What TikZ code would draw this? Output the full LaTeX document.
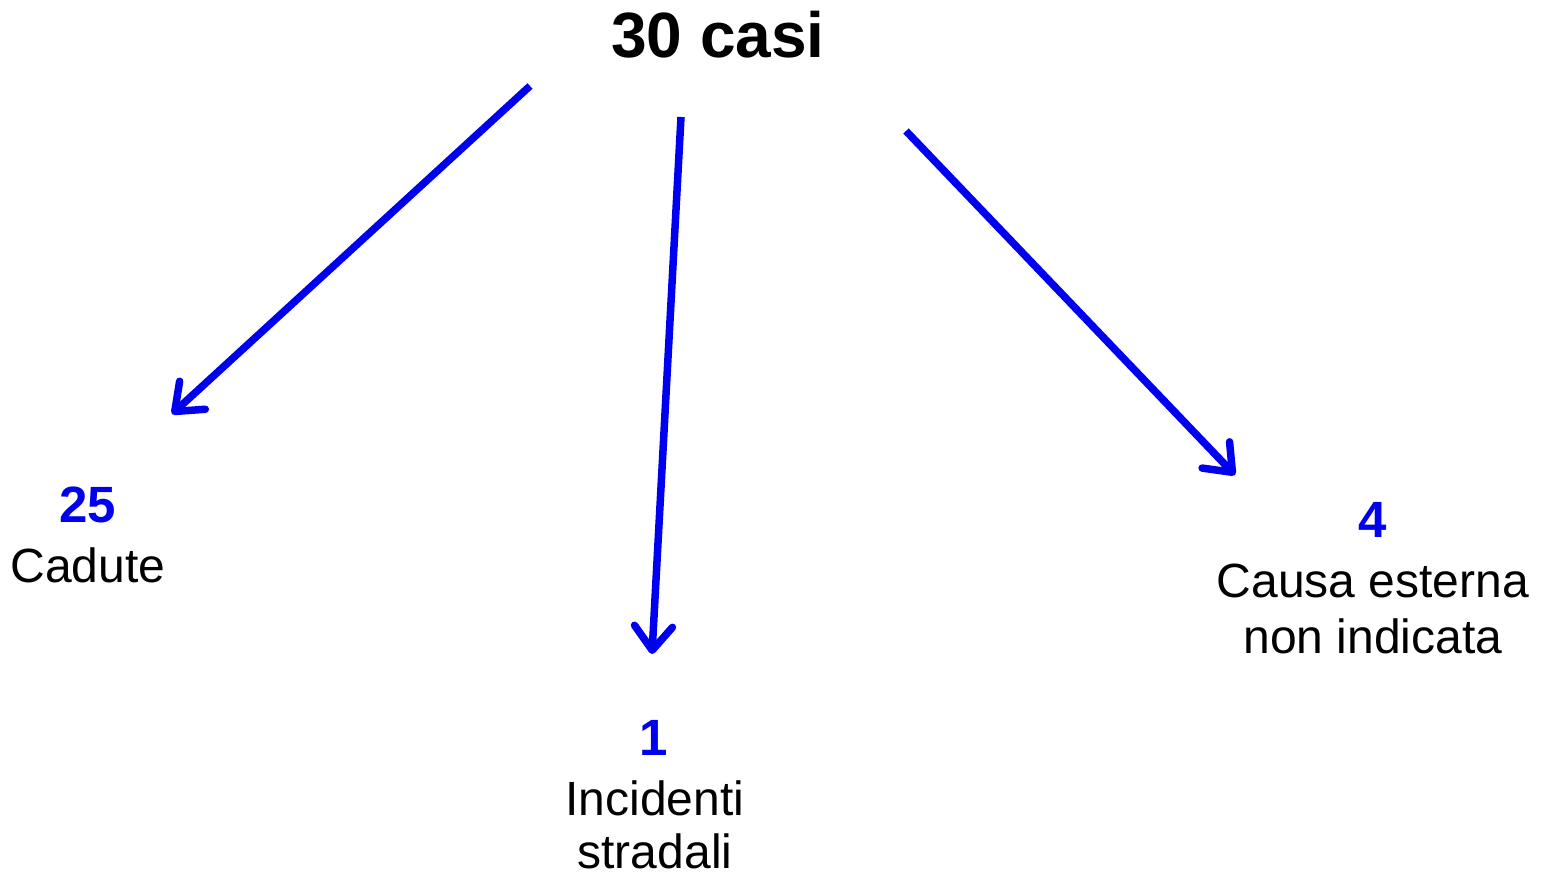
\documentclass[tikz,border=0pt]{standalone}
\usepackage{fontspec}
\setmainfont{Liberation Sans}
\usetikzlibrary{arrows.meta}
\definecolor{arrowblue}{RGB}{0,0,240}
\tikzset{
  conn/.style={draw=arrowblue, line width=7.5pt, -{Straight Barb[length=24pt,width=38pt,round]}},
  title/.style={font=\fontsize{64}{70}\selectfont\bfseries, inner sep=0pt, anchor=base},
  num/.style={font=\fontsize{51}{56}\selectfont\bfseries, text=arrowblue, inner sep=0pt, anchor=base},
  lab/.style={font=\fontsize{48}{56}\selectfont, inner sep=0pt, anchor=base, align=center},
}
\begin{document}
\begin{tikzpicture}[x=1pt,y=-1pt]
\useasboundingbox (0,0) rectangle (1548,875);
\node[title] (top) at (718,58) {30 casi};
\node[num] (n25) at (88,522) {25};
\node[lab] (l25) at (88,582) {Cadute};
\node[num] (n1) at (654,755) {1};
\node[lab] (l1a) at (655,815) {Incidenti};
\node[lab] (l1b) at (655,868) {stradali};
\node[num] (n4) at (1373,537) {4};
\node[lab] (l4a) at (1373,597) {Causa esterna};
\node[lab] (l4b) at (1373,653) {non indicata};
\coordinate (s1) at (530,86);
\coordinate (e1) at (172,414);
\coordinate (s2) at (681,117);
\coordinate (e2) at (652,654);
\coordinate (s3) at (906,131);
\coordinate (e3) at (1235,475);
\draw[conn] (s1) -- (e1);
\draw[conn] (s2) -- (e2);
\draw[conn] (s3) -- (e3);
\end{tikzpicture}
\end{document}
